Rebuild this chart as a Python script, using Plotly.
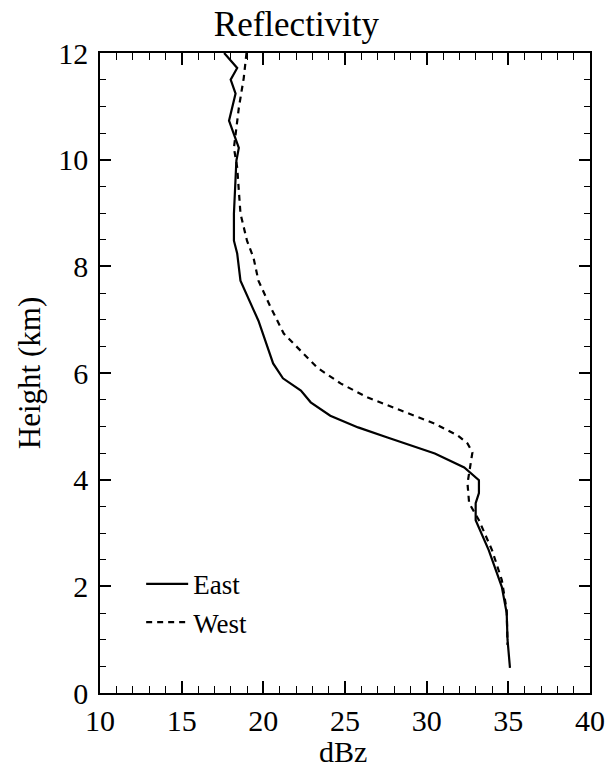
import plotly.graph_objects as go

east_dbz = [17.6, 18.4, 18.0, 18.3, 17.9, 18.5, 18.35, 18.2, 18.2, 18.4, 18.6, 19.7, 20.6, 21.2, 22.3, 22.9, 24.1, 25.8, 27.6, 30.5, 32.3, 33.2, 33.2, 33.0, 33.0, 33.8, 34.6, 34.9, 34.95, 35.1]
east_km = [12.0, 11.72, 11.5, 11.24, 10.73, 10.22, 9.98, 8.99, 8.48, 8.24, 7.73, 6.98, 6.18, 5.9, 5.67, 5.45, 5.2, 4.98, 4.79, 4.49, 4.23, 3.99, 3.75, 3.56, 3.24, 2.68, 1.99, 1.5, 1.0, 0.47]

west_dbz = [18.97, 18.8, 18.5, 18.3, 18.2, 18.4, 18.6, 19.0, 19.4, 19.7, 20.45, 21.25, 22.1, 23.3, 24.75, 26.4, 28.4, 30.5, 31.9, 32.5, 32.8, 32.7, 32.5, 32.6, 33.2, 34.0, 34.6, 34.9, 34.95]
west_km = [12.0, 11.53, 10.97, 10.49, 10.22, 9.85, 8.99, 8.48, 8.16, 7.73, 7.23, 6.74, 6.48, 6.1, 5.8, 5.54, 5.3, 5.05, 4.83, 4.68, 4.51, 4.3, 3.93, 3.56, 3.24, 2.68, 2.12, 1.55, 0.9]

x_ticks = [10, 15, 20, 25, 30, 35, 40]
y_ticks = [0, 2, 4, 6, 8, 10, 12]

FONT = "Liberation Serif, Times New Roman, serif"

fig = go.Figure()
fig.add_trace(go.Scatter(x=east_dbz, y=east_km, mode="lines", name="East",
                         line=dict(color="black", width=2.2)))
fig.add_trace(go.Scatter(x=west_dbz, y=west_km, mode="lines", name="West",
                         line=dict(color="black", width=2.2, dash="6px,5px")))

axis_common = dict(showgrid=False, zeroline=False, showline=True, linecolor="black",
                   linewidth=1.5, mirror="ticks", ticks="inside", tickcolor="black",
                   tickwidth=1.5, automargin=False,
                   tickfont=dict(family=FONT, size=30, color="black"))

fig.update_xaxes(range=[10, 40], tickvals=x_ticks, ticklen=12, ticklabelstandoff=0,
                 minor=dict(dtick=1, ticks="inside", ticklen=7, tickcolor="black", tickwidth=1.2),
                 **axis_common)
fig.update_yaxes(range=[0, 12], tickvals=y_ticks, ticklen=11, ticklabelstandoff=4,
                 minor=dict(dtick=0.5, ticks="inside", ticklen=6, tickcolor="black", tickwidth=1.2),
                 title=dict(text="Height (km)", font=dict(family=FONT, size=31, color="black"), standoff=8),
                 **axis_common)

fig.add_annotation(text="dBz", xref="paper", yref="paper", x=0.495, y=-0.121,
                   xanchor="center", yanchor="bottom", showarrow=False,
                   font=dict(family=FONT, size=30, color="black"))

fig.update_layout(
    width=605, height=772,
    margin=dict(l=100, r=15, t=53, b=79),
    paper_bgcolor="white", plot_bgcolor="white",
    title=dict(text="Reflectivity", x=0.49, xanchor="center", xref="container", y=0.985, yanchor="top",
               font=dict(family=FONT, size=35, color="black")),
    showlegend=True,
    legend=dict(x=0.084, y=0.208, xanchor="left", yanchor="top", bgcolor="rgba(0,0,0,0)",
                itemwidth=42, font=dict(family=FONT, size=27, color="black"), tracegroupgap=0),
)

fig.write_html("out.html")
